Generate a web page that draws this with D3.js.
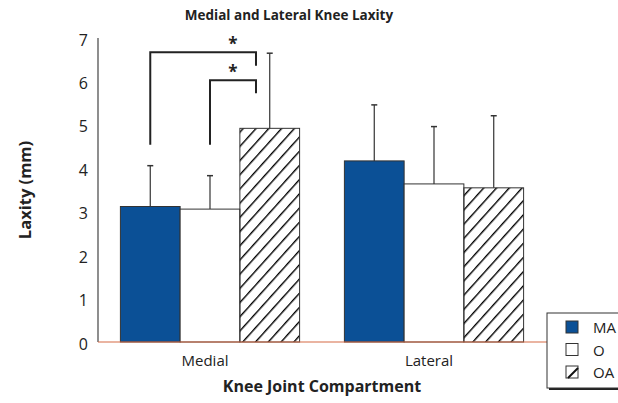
<!DOCTYPE html>
<html>
<head>
<meta charset="utf-8">
<script src="https://cdn.jsdelivr.net/npm/d3@7"></script>
<style>
  body { margin: 0; background: #fff; }
  text { font-family: "Open Sans", "Noto Sans", sans-serif; fill: #222; }
</style>
</head>
<body>
<script>
//Width and height
var w = 618;
var h = 403;

var categories = ["Medial", "Lateral"];
var series = ["MA", "O", "OA"];
var meanMA = [3.12, 4.17];
var meanO = [3.06, 3.64];
var meanOA = [4.92, 3.55];
var sdMA = [0.94, 1.29];
var sdO = [0.77, 1.32];
var sdOA = [1.73, 1.66];
var yTicks = [0, 1, 2, 3, 4, 5, 6, 7];

// significance brackets (values in mm)
var bracketFrom = ["MA", "O"];
var bracketBase = [4.54, 4.54];
var bracketTop = [6.67, 6.03];
var bracketEnd = [6.36, 5.73];

var means = { MA: meanMA, O: meanO, OA: meanOA };
var sds = { MA: sdMA, O: sdO, OA: sdOA };

var rows = [];
categories.forEach(function(c, i) {
    series.forEach(function(s) {
        rows.push({ cat: c, ser: s, mean: means[s][i], sd: sds[s][i] });
    });
});

var x0 = d3.scaleBand()
    .domain(categories)
    .range([98, 546])
    .paddingInner(0.2)
    .paddingOuter(0.1);

var x1 = d3.scaleBand()
    .domain(series)
    .range([0, x0.bandwidth()]);

var yScale = d3.scaleLinear()
    .domain([0, 7])
    .range([342, 38]);

//Create SVG element
var svg = d3.select("body")
    .append("svg")
    .attr("width", w)
    .attr("height", h);

var defs = svg.append("defs");
defs.append("pattern")
    .attr("id", "hatch")
    .attr("patternUnits", "userSpaceOnUse")
    .attr("width", 9.5)
    .attr("height", 9.5)
    .attr("patternTransform", "rotate(42)")
    .append("line")
    .attr("x1", 0).attr("y1", 0)
    .attr("x2", 0).attr("y2", 9.5)
    .attr("stroke", "#000")
    .attr("stroke-width", 2.8);

function fillFor(s) {
    if (s === "MA") return "#0b5096";
    if (s === "O") return "#fff";
    return "url(#hatch)";
}

// bars
svg.selectAll("rect.bar")
    .data(rows)
    .enter()
    .append("rect")
    .attr("class", "bar")
    .attr("x", function(d) { return x0(d.cat) + x1(d.ser); })
    .attr("y", function(d) { return yScale(d.mean); })
    .attr("width", x1.bandwidth())
    .attr("height", function(d) { return yScale(0) - yScale(d.mean); })
    .attr("fill", function(d) { return fillFor(d.ser); })
    .attr("stroke", "#333")
    .attr("stroke-width", 1);

// error bars
var cx = function(d) { return x0(d.cat) + x1(d.ser) + x1.bandwidth() / 2; };
svg.selectAll("line.err")
    .data(rows)
    .enter()
    .append("line")
    .attr("x1", cx).attr("x2", cx)
    .attr("y1", function(d) { return yScale(d.mean); })
    .attr("y2", function(d) { return yScale(d.mean + d.sd); })
    .attr("stroke", "#333")
    .attr("stroke-width", 1.2);
svg.selectAll("line.cap")
    .data(rows)
    .enter()
    .append("line")
    .attr("x1", function(d) { return cx(d) - 3; })
    .attr("x2", function(d) { return cx(d) + 3; })
    .attr("y1", function(d) { return yScale(d.mean + d.sd); })
    .attr("y2", function(d) { return yScale(d.mean + d.sd); })
    .attr("stroke", "#333")
    .attr("stroke-width", 1.5);

// axes
svg.append("line")
    .attr("x1", 98).attr("x2", 98)
    .attr("y1", yScale(0)).attr("y2", yScale(7))
    .attr("stroke", "#444")
    .attr("stroke-width", 1.2);
svg.append("line")
    .attr("x1", 98).attr("x2", 547)
    .attr("y1", yScale(0)).attr("y2", yScale(0))
    .attr("stroke", "#d66a45")
    .attr("stroke-width", 1.2);

svg.selectAll("text.ytick")
    .data(yTicks)
    .enter()
    .append("text")
    .text(function(d) { return d; })
    .attr("text-anchor", "end")
    .attr("x", 88)
    .attr("y", function(d) { return yScale(d) + 7.5; })
    .attr("font-size", "16px");

svg.selectAll("text.xtick")
    .data(categories)
    .enter()
    .append("text")
    .text(function(d) { return d; })
    .attr("text-anchor", "middle")
    .attr("x", function(d) { return x0(d) + x0.bandwidth() / 2 - 5; })
    .attr("y", 366)
    .attr("font-size", "15px");

// significance brackets
var oaLeft = function(cat) { return x0(cat) + x1("OA") + x1.bandwidth() * 0.27; };
bracketFrom.forEach(function(s, i) {
    var xa = x0("Medial") + x1(s) + x1.bandwidth() / 2;
    var xb = oaLeft("Medial");
    svg.append("path")
        .attr("d", "M" + xa + "," + yScale(bracketBase[i]) +
            "V" + yScale(bracketTop[i]) + "H" + xb + "V" + yScale(bracketEnd[i]))
        .attr("fill", "none")
        .attr("stroke", "#222")
        .attr("stroke-width", 2);
});
var starX = (x0("Medial") + x1("O") + x1.bandwidth() / 2 + oaLeft("Medial")) / 2;
bracketTop.forEach(function(t) {
    svg.append("text")
        .text("*")
        .attr("text-anchor", "middle")
        .attr("x", starX)
        .attr("y", yScale(t) - 2)
        .attr("font-size", "17px")
        .attr("font-weight", "bold");
});

// titles
svg.append("text")
    .text("Medial and Lateral Knee Laxity")
    .attr("text-anchor", "middle")
    .attr("x", 289)
    .attr("y", 20)
    .attr("font-size", "13.5px")
    .attr("font-weight", "bold");
svg.append("text")
    .text("Knee Joint Compartment")
    .attr("text-anchor", "middle")
    .attr("x", 322)
    .attr("y", 392)
    .attr("font-size", "16px")
    .attr("font-weight", "bold");
svg.append("text")
    .text("Laxity (mm)")
    .attr("text-anchor", "middle")
    .attr("transform", "translate(31,190) rotate(-90)")
    .attr("font-size", "16.5px")
    .attr("font-weight", "bold");

// legend
var lg = svg.append("g").attr("transform", "translate(547,313)");
lg.append("rect")
    .attr("x", 2).attr("y", 2)
    .attr("width", 90).attr("height", 75)
    .attr("fill", "#222");
lg.append("rect")
    .attr("width", 90).attr("height", 75)
    .attr("fill", "#fff")
    .attr("stroke", "#333")
    .attr("stroke-width", 1);
var item = lg.selectAll("g.item")
    .data(series)
    .enter()
    .append("g")
    .attr("transform", function(d, i) { return "translate(19," + (8 + i * 22.5) + ")"; });
item.append("rect")
    .attr("width", 12).attr("height", 12)
    .attr("fill", function(d) { return d === "MA" ? "#0b5096" : "#fff"; })
    .attr("stroke", "#333")
    .attr("stroke-width", 1);
item.filter(function(d) { return d === "OA"; })
    .append("line")
    .attr("x1", 2).attr("y1", 12).attr("x2", 12).attr("y2", 2)
    .attr("stroke", "#111")
    .attr("stroke-width", 2);
item.append("text")
    .text(function(d) { return d; })
    .attr("x", 27)
    .attr("y", 12)
    .attr("font-size", "15px");
</script>
</body>
</html>
